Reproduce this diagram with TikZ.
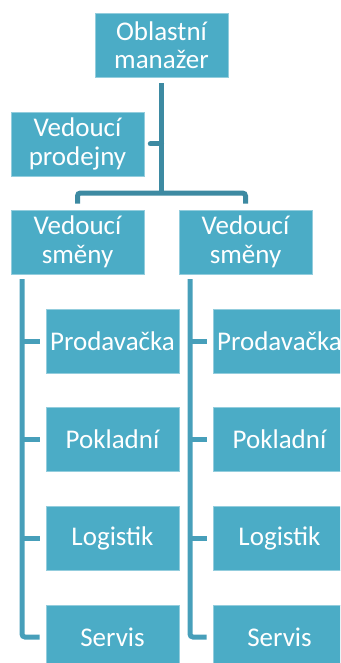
\documentclass[tikz,border=0pt]{standalone}
\usepackage{fontspec}
\setmainfont{Carlito}
\definecolor{boxc}{HTML}{4BACC6}
\definecolor{linec}{HTML}{3D8AA2}
\definecolor{spinec}{HTML}{479FBA}
\begin{document}
\begin{tikzpicture}[x=1pt,y=1pt,
  box/.style={fill=boxc,draw=boxc!60!white,line width=0.6pt,minimum width=133pt,minimum height=64pt,inner sep=0pt,
    text=white,align=center,font=\fontsize{27pt}{28.5pt}\selectfont},
  conn/.style={draw=linec,line width=5pt},
  spine/.style={draw=spinec,line width=5pt}]
\useasboundingbox (0,0) rectangle (340,-663);
\clip (0,0) rectangle (340,-663);
% nodes
\node[box] (om) at (161.5,-45) {Oblastní\\manažer};
\node[box] (vp) at (77.5,-144) {Vedoucí\\prodejny};
\node[box] (vs1) at (77.5,-242) {Vedoucí\\směny};
\node[box] (vs2) at (245.5,-242) {Vedoucí\\směny};
\node[box] (pr1) at (112.5,-341) {Prodavačka};
\node[box] (po1) at (112.5,-439.5) {Pokladní};
\node[box] (lo1) at (112.5,-538.5) {Logistik};
\node[box] (se1) at (112.5,-637) {Servis};
\node[box] (pr2) at (279.5,-341) {Prodavačka};
\node[box] (po2) at (279.5,-439.5) {Pokladní};
\node[box] (lo2) at (279.5,-538.5) {Logistik};
\node[box] (se2) at (279.5,-637) {Servis};
% connectors
\coordinate (bar) at (161.5,-193);
\draw[conn] ([yshift=-6pt]om.south) -- (bar);
\draw[conn,line cap=round] ([xshift=6pt]vp.east) -- (vp.east -| bar);
\draw[conn,rounded corners=3pt] ([yshift=6pt]vs1.north) |- (bar) -| ([yshift=6pt]vs2.north);
\coordinate (sp1) at (22,-279);
\coordinate (sp2) at (190,-279);
\draw[spine,rounded corners=3pt] (sp1) |- ([xshift=-6pt]se1.west);
\draw[spine,rounded corners=3pt] (sp2) |- ([xshift=-6pt]se2.west);
\foreach \n in {pr1,po1,lo1}{\draw[spine] ([xshift=-6pt]\n.west) -- (\n.west -| sp1);}
\foreach \n in {pr2,po2,lo2}{\draw[spine] ([xshift=-6pt]\n.west) -- (\n.west -| sp2);}
\end{tikzpicture}
\end{document}
